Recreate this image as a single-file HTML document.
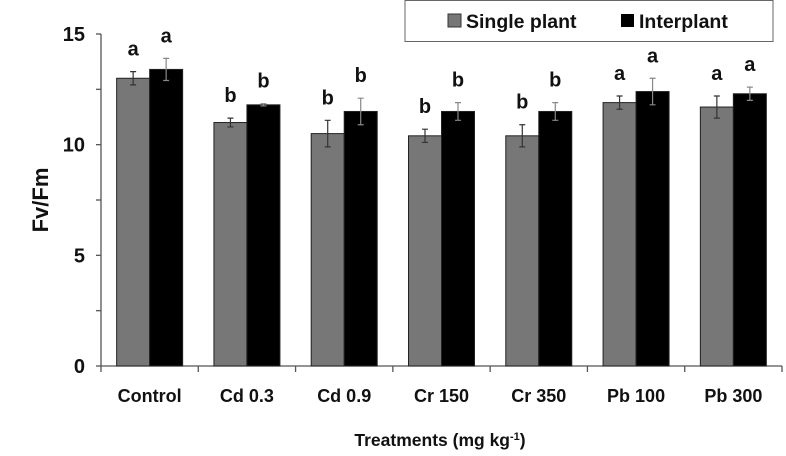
<!DOCTYPE html>
<html><head><meta charset="utf-8"><style>
body{margin:0;background:#fff;}
svg{display:block;font-family:"Liberation Sans",sans-serif;}
</style></head><body>
<svg id="chart" width="786" height="456" viewBox="0 0 786 456"></svg>
<script>
const categories=["Control","Cd 0.3","Cd 0.9","Cr 150","Cr 350","Pb 100","Pb 300"];
const singleVals=[13.0,11.0,10.5,10.4,10.4,11.9,11.7];
const singleErr=[0.3,0.2,0.6,0.3,0.5,0.3,0.5];
const interVals=[13.4,11.8,11.5,11.5,11.5,12.4,12.3];
const interErr=[0.5,0.05,0.6,0.4,0.4,0.6,0.3];
const singleLetters=["a","b","b","b","b","a","a"];
const interLetters=["a","b","b","b","b","a","a"];
const yTicks=[0,5,10,15];
const minorTicks=[0,2.5,5,7.5,10,12.5,15];

const NS="http://www.w3.org/2000/svg";
const svg=document.getElementById('chart');
const x0=101,x1=782,yBase=366,yTop=34,yMax=15;
const y=v=>yBase-(v/yMax)*(yBase-yTop);
const pitch=(x1-x0)/categories.length;
const bw=33;
function mk(t,a,txt){const e=document.createElementNS(NS,t);for(const k in a)e.setAttribute(k,a[k]);if(txt!==undefined)e.textContent=txt;svg.appendChild(e);return e;}

let e=mk('line',{x1:x0,y1:yBase,x2:x1,y2:yBase,stroke:'#555','stroke-width':1.3});


e=mk('line',{x1:x0,y1:yBase,x2:x0,y2:yTop,stroke:'#555','stroke-width':1.3});


minorTicks.forEach(t=>{
  const l=mk('line',{x1:x0-5,y1:y(t),x2:x0,y2:y(t),stroke:'#555','stroke-width':1.3});
  
  
});
yTicks.forEach(t=>{
  const l=mk('text',{x:x0-16,y:y(t)+7,'text-anchor':'end','font-size':20,'font-weight':'bold',fill:'#111'},String(t));
  
  
});
for(let i=0;i<=categories.length;i++){
  const l=mk('line',{x1:x0+i*pitch,y1:yBase,x2:x0+i*pitch,y2:yBase+6,stroke:'#555','stroke-width':1.3});
  
  
}
function bar(cx,v,err,letter,fill,name){
  const r=mk('rect',{x:cx,y:y(v),width:bw,height:yBase-y(v),fill:fill,stroke:'#222','stroke-width':1});
  
  
  const mx=cx+bw/2,t=y(v+err),b=y(v-err),c=fill=='#000'?'#888':'#333';
  const eb=mk('path',{d:`M${mx},${t}V${b}M${mx-3},${t}H${mx+3}M${mx-3},${b}H${mx+3}`,stroke:c,'stroke-width':1.2,fill:'none'});
  
  
  const lt=mk('text',{x:mx,y:t-16,'text-anchor':'middle','font-size':20,'font-weight':'bold',fill:'#111'},letter);
  
  
}
categories.forEach((c,i)=>{
  const cx=x0+i*pitch+pitch/2;
  bar(cx-bw,singleVals[i],singleErr[i],singleLetters[i],'#777','bar-single-plant');
  bar(cx,interVals[i],interErr[i],interLetters[i],'#000','bar-interplant');
  const t=mk('text',{x:cx,y:402,'text-anchor':'middle','font-size':18,'font-weight':'bold',fill:'#111'},c);
  
  
});
e=mk('text',{x:440,y:446,'text-anchor':'middle','font-size':17.5,'font-weight':'bold',fill:'#111'});
e.innerHTML='Treatments (mg kg<tspan dy="-6" font-size="11">-1</tspan><tspan dy="6">)</tspan>';


e=mk('text',{x:0,y:0,transform:'translate(48,200) rotate(-90)','text-anchor':'middle','font-size':22,'font-weight':'bold',fill:'#111'},'Fv/Fm');


const g=mk('g',{});


g.innerHTML='<rect x="405" y="0.5" width="368" height="41" fill="#fff" stroke="#666"/>'+
'<rect x="448" y="14" width="13" height="13" fill="#777" stroke="#333"/>'+
'<text x="466" y="28" font-size="19.5" font-weight="bold" fill="#111">Single plant</text>'+
'<rect x="621" y="14" width="13" height="13" fill="#000"/>'+
'<text x="639" y="28" font-size="19.5" font-weight="bold" fill="#111">Interplant</text>';
</script>
</body></html>
